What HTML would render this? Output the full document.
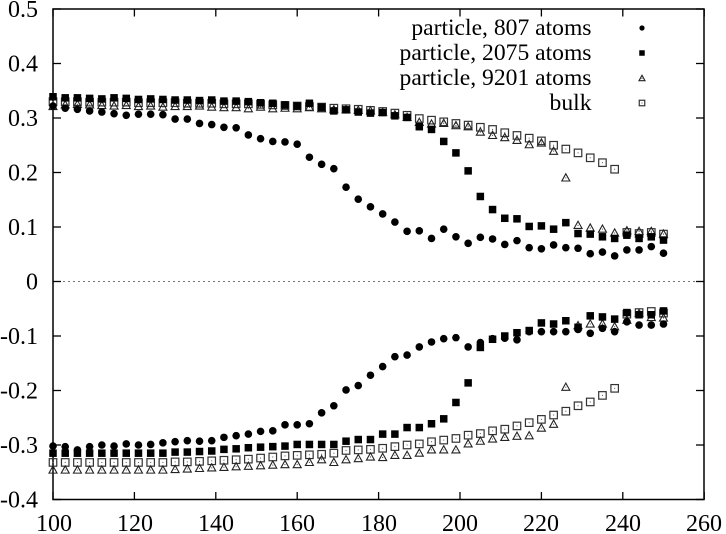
<!DOCTYPE html>
<html><head><meta charset="utf-8"><style>
html,body{margin:0;padding:0;background:#fff;}
svg{display:block;}
text{font-family:"Liberation Serif","DejaVu Serif",serif;font-size:24px;fill:#000;}
text.lg{font-size:23.6px;}
</style></head><body>
<svg id="s" width="726" height="534" viewBox="0 0 726 534" xmlns="http://www.w3.org/2000/svg">
<rect x="0" y="0" width="726" height="534" fill="#fff"/>
<line x1="53" y1="281.5" x2="704" y2="281.5" stroke="#777" stroke-width="1" stroke-dasharray="2,3"/>
<g id="ticks" stroke="#000" stroke-width="1.3"></g>
<rect x="53" y="9" width="651" height="490.5" fill="none" stroke="#000" stroke-width="1.5"/>
<g text-anchor="end">
<text x="38" y="17">0.5</text>
<text x="38" y="71.5">0.4</text>
<text x="38" y="126">0.3</text>
<text x="38" y="180.5">0.2</text>
<text x="38" y="235">0.1</text>
<text x="38" y="289.5">0</text>
<text x="38" y="344">-0.1</text>
<text x="38" y="398.5">-0.2</text>
<text x="38" y="453">-0.3</text>
<text x="38" y="507.5">-0.4</text>
</g>
<g text-anchor="middle">
<text x="54" y="531">100</text>
<text x="135" y="531">120</text>
<text x="216" y="531">140</text>
<text x="297" y="531">160</text>
<text x="379" y="531">180</text>
<text x="460" y="531">200</text>
<text x="541" y="531">220</text>
<text x="623" y="531">240</text>
<text x="704" y="531">260</text>
</g>
<g text-anchor="end">
<text class="lg" x="591.5" y="35">particle, 807 atoms</text>
<text class="lg" x="591.5" y="60">particle, 2075 atoms</text>
<text class="lg" x="591.5" y="85">particle, 9201 atoms</text>
<text class="lg" x="591.5" y="110">bulk</text>
</g>
<g id="pts"></g>
<g id="leg"></g>
</svg>
<script>
(function(){
var NS="http://www.w3.org/2000/svg";
function px(x){return 53+(x-100)*4.07;}
function py(v){return 281.5-v*545;}
function el(n,a,p){var e=document.createElementNS(NS,n);for(var k in a)e.setAttribute(k,a[k]);p.appendChild(e);return e;}
var T=document.getElementById("ticks");
for(var x=100;x<=260;x+=20){var X=px(x);el("line",{x1:X,y1:499.5,x2:X,y2:492},T);el("line",{x1:X,y1:9,x2:X,y2:16.5},T);}
for(var i=0;i<=9;i++){var Y=9+i*54.5;el("line",{x1:53,y1:Y,x2:61,y2:Y},T);el("line",{x1:704,y1:Y,x2:696,y2:Y},T);}
var P=document.getElementById("pts");
function circ(X,Y,r,g){el("circle",{cx:X,cy:Y,r:r,fill:"#000"},g);}
function fsq(X,Y,s,g){el("rect",{x:X-s/2,y:Y-s/2,width:s,height:s,fill:"#000"},g);}
function tri(X,Y,s,g){var h=s*0.9;el("polygon",{points:(X-s/2)+","+(Y+h/2)+" "+(X+s/2)+","+(Y+h/2)+" "+X+","+(Y-h/2),fill:"none",stroke:"#222","stroke-width":1.1},g);el("rect",{x:X-0.5,y:Y,width:1,height:1,fill:"#444"},g);}
function osq(X,Y,s,g){el("rect",{x:X-s/2,y:Y-s/2,width:s,height:s,fill:"none",stroke:"#333","stroke-width":1.2},g);el("rect",{x:X-0.5,y:Y-0.5,width:1,height:1,fill:"#555"},g);}
var c1u=[.322,.318,.316,.313,.311,.308,.305,.307,.307,.306,.298,.298,.290,.288,.283,.282,.269,.262,.257,.256,.252,.228,.215,.207,.173,.151,.137,.124,.109,.092,.093,.079,.096,.082,.070,.081,.078,.068,.075,.062,.060,.067,.062,.061,.051,.054,.047,.058,.058,.064,.052];
var c1l=[-.302,-.303,-.309,-.303,-.300,-.302,-.298,-.300,-.299,-.296,-.294,-.292,-.293,-.292,-.286,-.283,-.280,-.275,-.274,-.263,-.263,-.261,-.241,-.228,-.199,-.191,-.172,-.156,-.138,-.135,-.120,-.111,-.105,-.103,-.120,-.112,-.105,-.104,-.107,-.092,-.092,-.092,-.092,-.088,-.095,-.086,-.092,-.074,-.080,-.080,-.078];
var s2u=[.339,.337,.337,.336,.335,.337,.336,.334,.335,.334,.333,.333,.332,.333,.331,.331,.330,.328,.327,.324,.322,.327,.320,.313,.315,.311,.309,.310,.304,.301,.284,.279,.257,.236,.203,.156,.132,.116,.115,.101,.102,.096,.108,.088,.087,.082,.079,.085,.079,.082,.076];
var s2l=[-.315,-.315,-.315,-.315,-.315,-.315,-.315,-.315,-.315,-.315,-.313,-.313,-.312,-.311,-.308,-.307,-.305,-.304,-.303,-.302,-.299,-.299,-.299,-.299,-.293,-.290,-.290,-.280,-.280,-.268,-.268,-.261,-.252,-.222,-.186,-.121,-.106,-.100,-.094,-.090,-.076,-.078,-.072,-.084,-.063,-.065,-.069,-.057,-.061,-.061,-.054];
var t3u=[.322,.325,.326,.325,.324,.323,.324,.322,.323,.321,.322,.322,.323,.321,.320,.320,.318,.321,.318,.319,.318,.320,.318,.316,.316,.315,.314,.311,.307,.302,.293,.290,.291,.287,.285,.275,.269,.265,.260,.252,.255,.240,.191,.104,.099,.097,.090,.094,.093,.093,.088];
var t3l=[-.345,-.345,-.345,-.345,-.345,-.345,-.345,-.345,-.345,-.345,-.344,-.343,-.342,-.341,-.340,-.339,-.338,-.337,-.336,-.335,-.335,-.331,-.326,-.331,-.326,-.324,-.321,-.322,-.318,-.318,-.314,-.308,-.308,-.308,-.297,-.292,-.288,-.285,-.283,-.282,-.268,-.261,-.193,-.080,-.077,-.077,-.082,-.070,-.058,-.065,-.066];
var b4u=[.330,.330,.330,.329,.329,.329,.329,.328,.328,.328,.328,.327,.327,.327,.326,.326,.326,.325,.324,.323,.322,.321,.320,.318,.317,.316,.314,.312,.309,.305,.299,.296,.293,.290,.287,.283,.279,.273,.268,.263,.258,.250,.243,.236,.227,.218,.206,.090,.088,.090,.087];
var b4l=[-.332,-.332,-.332,-.332,-.332,-.332,-.332,-.332,-.332,-.332,-.331,-.331,-.330,-.329,-.328,-.327,-.326,-.324,-.322,-.320,-.319,-.318,-.317,-.315,-.310,-.309,-.308,-.306,-.303,-.300,-.298,-.294,-.291,-.288,-.282,-.279,-.274,-.271,-.265,-.259,-.253,-.245,-.238,-.228,-.221,-.209,-.196,-.060,-.057,-.055,-.058];
function draw(arr,f,s){for(var i=0;i<arr.length;i++){f(px(100+3*i),py(arr[i]),s,P);}}
draw(b4u,osq,7.5);draw(b4l,osq,7.5);
draw(t3u,tri,8);draw(t3l,tri,8);
draw(s2u,fsq,7.5);draw(s2l,fsq,7.5);
draw(c1u,circ,3.8);draw(c1l,circ,3.8);
var L=document.getElementById("leg");
circ(642,28,2.6,L);fsq(642,53,5.5,L);tri(642,78,6,L);osq(642,103,5.5,L);
})();
</script>
</body></html>
